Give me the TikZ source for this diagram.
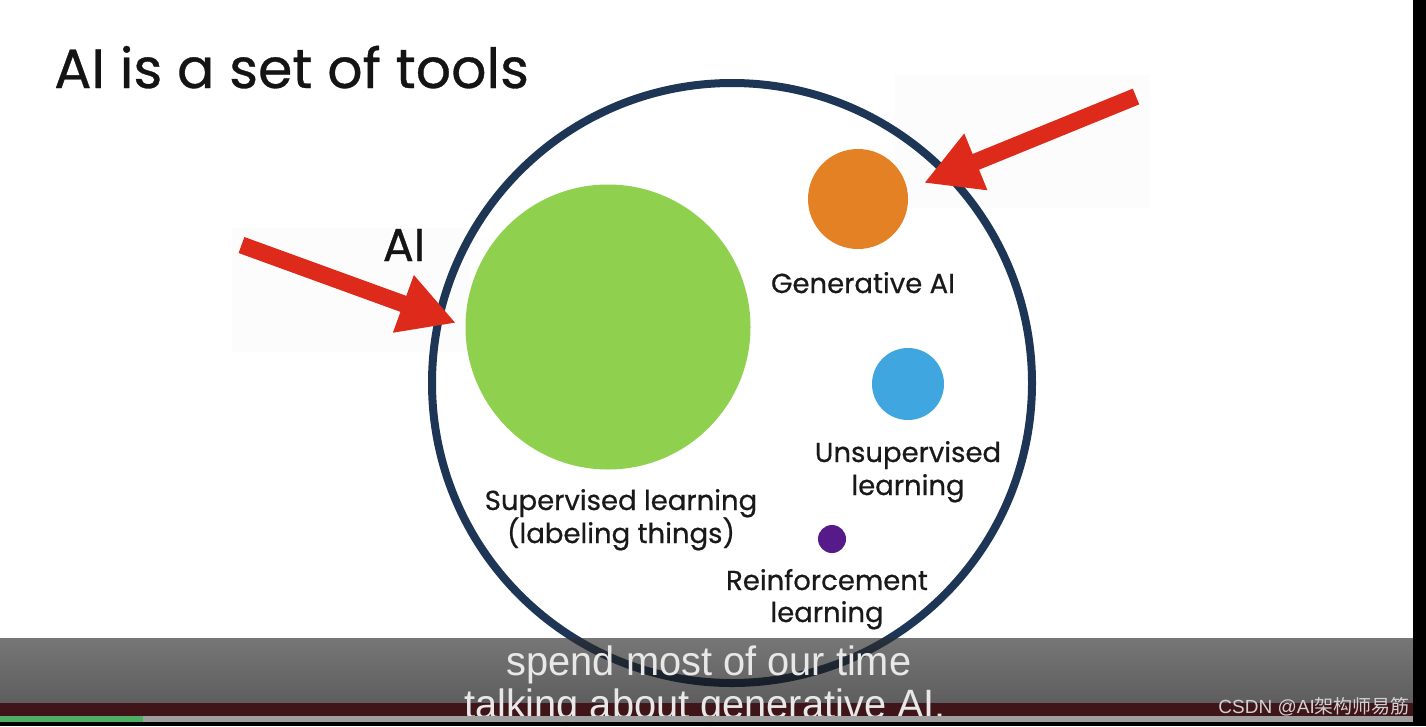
\documentclass[tikz,border=0pt]{standalone}
\usepackage{fontspec}
\setmainfont{Poppins}[FakeBold=0.6]
\newfontfamily\subfont{Liberation Sans}
\newfontfamily\cjk{Noto Sans CJK SC}
\usetikzlibrary{arrows.meta}
\definecolor{navy}{RGB}{30,54,86}
\definecolor{lgreen}{RGB}{143,209,79}
\definecolor{orangeai}{RGB}{229,129,37}
\definecolor{blueai}{RGB}{63,166,224}
\definecolor{purpleai}{RGB}{87,26,138}
\definecolor{redarrow}{RGB}{221,42,27}
\definecolor{redband}{RGB}{63,21,25}
\definecolor{progress}{RGB}{76,175,100}
\definecolor{subtext}{RGB}{232,232,232}
\tikzset{
  lbl/.style={anchor=base, inner sep=0pt, text=black!90, font=\fontsize{27.5}{32}\selectfont},
  bigarrow/.style={draw=redarrow, line width=17pt, -{Triangle[width=57pt,length=56pt]}, fill=redarrow},
  sub/.style={anchor=base, inner sep=0pt, text=subtext, font=\subfont\fontsize{41}{46}\selectfont, xscale=0.97},
}
\begin{document}
\begin{tikzpicture}[x=1pt,y=-1pt]
\useasboundingbox (0,0) rectangle (1426,726);
\fill[white] (0,0) rectangle (1426,726);
% faint backdrop rectangles behind arrows
\fill[black!1.2] (232,228) rectangle (470,352);
\fill[black!1.2] (895,75) rectangle (1150,208);
% title
\node[anchor=base west, inner sep=0pt, text=black!92, font=\fontsize{55.3}{62}\selectfont] (title) at (54,88) {AI is a set of tools};
% main circle
\node[circle, draw=navy, line width=8pt, minimum size=600pt, inner sep=0pt] (ai) at (732,383) {};
\node[circle, fill=lgreen, minimum size=285pt, inner sep=0pt] (sup) at (608,327) {};
\node[circle, fill=orangeai, minimum size=100pt, inner sep=0pt] (gen) at (858,199) {};
\node[circle, fill=blueai, minimum size=72pt, inner sep=0pt] (uns) at (908,384) {};
\node[circle, fill=purpleai, minimum size=28pt, inner sep=0pt] (rei) at (832,539) {};
% labels
\node[anchor=base, inner sep=0pt, text=black!92, font=\fontsize{46}{50}\selectfont] (ailbl) at (404,261) {AI};
\node[lbl] (genlbl) at (863,293) {Generative AI};
\node[lbl] (uns1) at (908,462) {Unsupervised};
\node[lbl] (uns2) at (908,495) {learning};
\node[lbl] (sup1) at (621,510) {Supervised learning};
\node[lbl] (sup2) at (621,543) {(labeling things)};
\node[lbl] (rei1) at (827,590) {Reinforcement};
\node[lbl] (rei2) at (827,622) {learning};
% arrows
\coordinate (lt) at (241.5,245);
\coordinate (lh) at (456,323);
\coordinate (rt) at (1136,96.5);
\coordinate (rh) at (924,183);
\draw[bigarrow] (lt) -- (lh);
\draw[bigarrow] (rt) -- (rh);
% subtitle overlay
\shade[top color=black!82, bottom color=black!97, fill opacity=0.65] (0,638) rectangle (1426,703);
\fill[redband] (0,703) rectangle (1426,716);
\node[sub] (s1) at (709,675) {spend most of our time};
\node[sub] (s2) at (705,718) {talking about generative AI.};
\node[anchor=base east, inner sep=0pt, text=black!18, font=\subfont\fontsize{19}{21}\selectfont] (wm) at (1410,713) {CSDN @AI{\cjk 架构师易筋}};
\fill[black!38] (0,716) rectangle (1413,722);
\fill[progress] (0,716) rectangle (143,722);
\fill[black] (0,722) rectangle (1426,726);
\fill[black] (1413,0) rectangle (1426,726);
\end{tikzpicture}
\end{document}
